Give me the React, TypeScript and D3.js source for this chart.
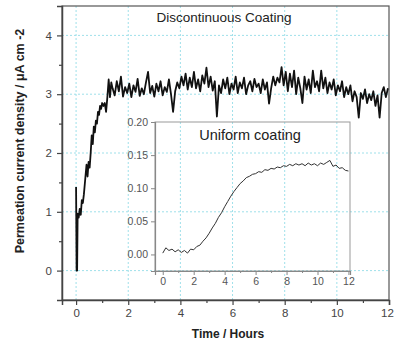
import * as React from 'react';
import * as d3 from 'd3';

// main curve: start-up transient (hours, µA cm-2)
const startTimes = [0.0, 0.02, 0.04, 0.06, 0.1, 0.14, 0.18, 0.22, 0.26, 0.3, 0.35, 0.4, 0.44, 0.48, 0.52, 0.56, 0.6, 0.64, 0.68, 0.72, 0.76, 0.8, 0.84, 0.88, 0.92, 0.96, 1.0, 1.05, 1.1, 1.15, 1.2, 1.25, 1.3, 1.35];
const startValues = [1.42, 0.0, 0.0, 0.97, 0.9, 1.05, 0.95, 1.2, 1.15, 1.3, 1.55, 1.8, 1.6, 1.85, 1.75, 2.0, 2.3, 2.15, 2.45, 2.35, 2.55, 2.5, 2.7, 2.65, 2.8, 2.75, 2.85, 2.8, 2.85, 2.7, 2.95, 3.25, 2.95, 3.2];

// main curve: plateau, sampled every 0.08 h from 1.4 h
const plateauStart = 1.4;
const plateauStep = 0.08;
const plateauValues = [
  3.10, 2.98, 3.22, 3.05, 3.30, 2.96, 3.12, 3.02, 3.18, 2.95,
  3.15, 3.04, 3.26, 2.97, 3.10, 3.00, 3.20, 3.38, 3.02, 3.14,
  2.96, 3.18, 3.05, 3.22, 2.98, 3.12, 3.04, 3.25, 3.00, 2.70,
  3.05, 3.20, 3.10, 3.30, 3.15, 3.35, 3.08, 3.28, 3.12, 3.38,
  3.10, 3.25, 3.05, 3.32, 3.18, 3.45, 3.12, 3.30, 3.06, 3.22,
  2.62, 3.15, 3.02, 3.25, 3.10, 3.28, 3.00, 3.18, 3.08, 3.30,
  3.02, 3.20, 3.10, 3.28, 3.00, 3.15, 3.22, 3.05, 3.26, 3.12,
  3.18, 3.02, 3.25, 3.08, 3.20, 2.84, 3.10, 3.30, 3.15, 3.28,
  3.20, 3.46, 3.15, 3.38, 3.05, 3.35, 3.12, 3.40, 3.00, 3.28,
  3.10, 2.85, 3.30, 3.08, 3.25, 3.02, 3.40, 3.12, 3.22, 3.05,
  3.40, 3.10, 3.28, 3.02, 3.20, 3.08, 3.25, 2.98, 3.15, 3.05,
  3.22, 2.95, 3.12, 3.00, 3.15, 2.88, 3.05, 2.95, 2.60, 3.02,
  2.92, 3.08, 2.85, 3.00, 2.90, 3.05, 2.80, 2.98, 2.60, 3.02,
  3.12, 2.95, 3.10,
];

// inset curve, every 0.2 h from 0 to 12 h
const insetStep = 0.2;
const insetValues = [
  0.002, 0.010, 0.006, 0.008, 0.004, 0.007, 0.003, 0.006, 0.002, 0.008,
  0.007, 0.012, 0.014, 0.020, 0.025, 0.032, 0.040, 0.047, 0.056, 0.063,
  0.072, 0.080, 0.088, 0.095, 0.101, 0.107, 0.111, 0.116, 0.118, 0.121,
  0.122, 0.125, 0.124, 0.128, 0.127, 0.130, 0.129, 0.132, 0.131, 0.134,
  0.133, 0.136, 0.134, 0.137, 0.135, 0.137, 0.134, 0.138, 0.135, 0.137,
  0.134, 0.138, 0.136, 0.139, 0.142, 0.133, 0.135, 0.130, 0.131, 0.127,
  0.126,
];

const xTicks = [0, 2, 4, 6, 8, 10, 12];
const xMinor = [1, 3, 5, 7, 9, 11];
const yTicks = [0, 1, 2, 3, 4];
const yMinor = [0.5, 1.5, 2.5, 3.5];
const insetXTicks = [0, 2, 4, 6, 8, 10, 12];
const insetXMinor = [1, 3, 5, 7, 9, 11];
const insetYTicks = [0, 0.05, 0.1, 0.15, 0.2];

const FONT = '"Liberation Sans", Arial, sans-serif';

class App extends React.Component {
  svgRef = React.createRef<SVGSVGElement>();

  componentDidMount() {
    const svg = d3.select(this.svgRef.current);
    svg.selectAll('*').remove();

    const x = d3.scaleLinear().domain([-0.54, 12]).range([62, 389]);
    const y = d3.scaleLinear().domain([-0.5, 4.5]).range([300, 6]);

    // grid
    const grid = svg.append('g')
      .attr('stroke', '#9fe0ea')
      .attr('stroke-width', 1)
      .attr('stroke-dasharray', '2,2');
    grid.selectAll('.gx').data(xTicks.slice(0, -1)).enter().append('line')
      .attr('x1', d => x(d)).attr('x2', d => x(d))
      .attr('y1', y.range()[0]).attr('y2', y.range()[1]);
    grid.selectAll('.gy').data(yTicks).enter().append('line')
      .attr('x1', x.range()[0]).attr('x2', x.range()[1])
      .attr('y1', d => y(d)).attr('y2', d => y(d));

    // frame
    svg.append('rect')
      .attr('x', x.range()[0]).attr('y', y.range()[1])
      .attr('width', x.range()[1] - x.range()[0])
      .attr('height', y.range()[0] - y.range()[1])
      .attr('fill', 'none').attr('stroke', '#555').attr('stroke-width', 1.2);

    // axes
    const xAxis = svg.append('g')
      .attr('transform', `translate(0,${y.range()[0]})`)
      .call(d3.axisBottom(x).tickValues(xTicks).tickSize(5).tickPadding(4).tickFormat(d3.format('d')));
    svg.append('g')
      .attr('transform', `translate(0,${y.range()[0]})`)
      .call(d3.axisBottom(x).tickValues(xMinor).tickSize(3).tickFormat(() => ''))
      .select('.domain').remove();
    const yAxis = svg.append('g')
      .attr('transform', `translate(${x.range()[0]},0)`)
      .call(d3.axisLeft(y).tickValues(yTicks).tickSize(5).tickPadding(5).tickFormat(d3.format('d')));
    svg.append('g')
      .attr('transform', `translate(${x.range()[0]},0)`)
      .call(d3.axisLeft(y).tickValues(yMinor).tickSize(3).tickFormat(() => ''))
      .select('.domain').remove();
    [xAxis, yAxis].forEach(a => {
      a.select('.domain').attr('stroke', '#444').attr('stroke-width', 1.5);
      a.selectAll('text').attr('font-family', FONT).attr('font-size', 11.5).attr('fill', '#444');
    });
    // keep the last x label inside the picture
    xAxis.selectAll('.tick text').filter(d => d === 12).attr('dx', -2);
    svg.selectAll('.tick line').attr('stroke', '#444').attr('stroke-width', 1.2);

    // main curve
    const mainData: [number, number][] = startTimes.map((t, i) => [t, startValues[i]]);
    plateauValues.forEach((v, i) => mainData.push([plateauStart + i * plateauStep, v]));
    const line = d3.line<[number, number]>().x(d => x(d[0])).y(d => y(d[1]));
    svg.append('path')
      .datum(mainData)
      .attr('d', line)
      .attr('fill', 'none')
      .attr('stroke', '#111')
      .attr('stroke-width', 1.8)
      .attr('stroke-linejoin', 'round');

    svg.append('text')
      .attr('x', 224).attr('y', 22)
      .attr('text-anchor', 'middle')
      .attr('font-family', FONT).attr('font-size', 13.5).attr('fill', '#222')
      .text('Discontinuous Coating');

    // inset
    const ix = d3.scaleLinear().domain([-0.5, 12.1]).range([155, 350]);
    const iy = d3.scaleLinear().domain([-0.025, 0.2]).range([271, 122]);
    const inset = svg.append('g');
    inset.append('rect')
      .attr('x', ix.range()[0]).attr('y', iy.range()[1])
      .attr('width', ix.range()[1] - ix.range()[0])
      .attr('height', iy.range()[0] - iy.range()[1])
      .attr('fill', 'none').attr('stroke', '#999').attr('stroke-width', 1);
    const ixAxis = inset.append('g')
      .attr('transform', `translate(0,${iy.range()[0]})`)
      .call(d3.axisBottom(ix).tickValues(insetXTicks).tickSize(4).tickPadding(3));
    inset.append('g')
      .attr('transform', `translate(0,${iy.range()[0]})`)
      .call(d3.axisBottom(ix).tickValues(insetXMinor).tickSize(2).tickFormat(() => ''))
      .select('.domain').remove();
    const iyAxis = inset.append('g')
      .attr('transform', `translate(${ix.range()[0]},0)`)
      .call(d3.axisLeft(iy).tickValues(insetYTicks).tickSize(4).tickPadding(3).tickFormat(d3.format('.2f')));
    [ixAxis, iyAxis].forEach(a => {
      a.select('.domain').attr('stroke', '#888').attr('stroke-width', 1.2);
      a.selectAll('text').attr('font-family', FONT).attr('font-size', 10.5).attr('fill', '#555');
    });
    inset.selectAll('.tick line').attr('stroke', '#888');

    const insetData: [number, number][] = insetValues.map((v, i) => [i * insetStep, v]);
    const iline = d3.line<[number, number]>().x(d => ix(d[0])).y(d => iy(d[1]));
    inset.append('path')
      .datum(insetData)
      .attr('d', iline)
      .attr('fill', 'none')
      .attr('stroke', '#333')
      .attr('stroke-width', 1);

    inset.append('text')
      .attr('x', 250).attr('y', 140)
      .attr('text-anchor', 'middle')
      .attr('font-family', FONT).attr('font-size', 14.5).attr('fill', '#222')
      .text('Uniform coating');

    // axis titles
    svg.append('text')
      .attr('x', 228).attr('y', 338)
      .attr('text-anchor', 'middle')
      .attr('font-family', FONT).attr('font-size', 12).attr('font-weight', 'bold').attr('fill', '#222')
      .text('Time / Hours');
    svg.append('text')
      .attr('transform', 'translate(24,141) rotate(-90)')
      .attr('text-anchor', 'middle')
      .attr('font-family', FONT).attr('font-size', 12.5).attr('font-weight', 'bold').attr('fill', '#222')
      .text('Permeation current density / \u03bcA cm -2');
  }

  render() {
    return (
      <svg
        ref={this.svgRef}
        width={394}
        height={345}
        style={{ position: 'absolute', left: 0, top: 0, background: '#fff' }}
      ></svg>
    );
  }
}

export default App;
